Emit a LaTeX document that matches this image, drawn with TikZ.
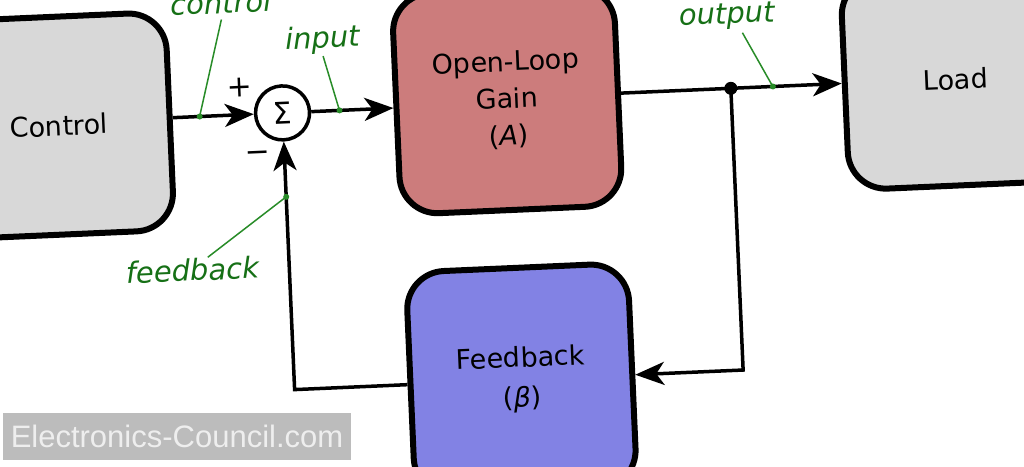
\documentclass[tikz,border=0pt]{standalone}
\usepackage{fontspec}
\setmainfont{DejaVu Sans}
\newfontfamily\wmfont{Liberation Sans}
\usetikzlibrary{arrows.meta}
\definecolor{boxgray}{RGB}{216,216,216}
\definecolor{olred}{RGB}{204,124,124}
\definecolor{fbblue}{RGB}{130,130,228}
\definecolor{lblgreen}{RGB}{22,112,22}
\definecolor{linegreen}{RGB}{40,140,40}
\definecolor{wmgray}{RGB}{188,188,188}
\definecolor{wmtext}{RGB}{238,238,238}
\begin{document}
\begin{tikzpicture}[x=1pt,y=-1pt,
  block/.style={draw=black, line width=6pt, rounded corners=38pt, minimum width=222pt,
    minimum height=220pt, align=center, font=\fontsize{27}{37}\selectfont, inner sep=0pt},
  wire/.style={line width=3.5pt, black},
  tip/.style={-{Stealth[length=29pt,width=23pt,inset=8pt]}},
  lbl/.style={text=lblgreen, font=\fontsize{29}{34}\selectfont\itshape, inner sep=0pt},
  lead/.style={linegreen, line width=1.5pt},
  gdot/.style={circle, fill=linegreen, minimum size=6pt, inner sep=0pt},
  sign/.style={font=\fontsize{30}{30}\selectfont, inner sep=0pt},
]
\useasboundingbox (0,0) rectangle (1024,466);
\clip (0,0) rectangle (1024,466);
\fill[white] (0,0) rectangle (1024,466);
\begin{scope}[rotate around={2.5:(512,233)}, transform shape]
  % blocks
  \node[block, fill=boxgray, minimum height=218pt] (ctrl) at (64,106) {Control};
  \node[block, fill=olred] (ol) at (513,100) {Open-Loop\\Gain\\({\itshape A})};
  \node[block, fill=boxgray, minimum height=212pt] (load) at (962,99) {Load};
  \node[block, fill=fbblue, minimum height=224pt, font=\fontsize{27}{40}\selectfont] (fb) at (515,380) {Feedback\\({\itshape β})};
  \node[circle, draw, line width=3.5pt, minimum size=54pt, inner sep=0pt, fill=white,
        font=\fontsize{30}{30}\selectfont] (sum) at (288,103) {Σ};
  \node[sign] (plus) at (246,76) {+};
  \node[sign] (minus) at (261,146) {−};
  % wires
  \coordinate (j) at (737,98);
  \draw[wire, tip] (ctrl.east |- sum.west) -- (sum.west);
  \draw[wire, tip] (sum.east) -- (ol.west |- sum.east);
  \draw[wire, tip] (ol.east |- j) -- (load.west |- j);
  \draw[wire, tip] (j) -- (j |- fb.east) -- (fb.east);
  \draw[wire, tip] (fb.west) -- (sum |- fb.west) -- (sum.south);
  \fill (j) circle (6.5pt);
  % green labels
  \node[lbl] (lcontrol) at (231,-10) {control};
  \node[lbl] (linput) at (331,32) {input};
  \node[lbl] (loutput) at (736,26) {output};
  \node[lbl] (lfeedback) at (191,256) {feedback};
  \coordinate (ccontrol) at (231,7);
  \coordinate (cinput) at (331,48);
  \coordinate (coutput) at (751,43);
  \coordinate (cfeedback) at (207,244);
  \node[gdot] (dcontrol) at (205,103) {};
  \node[gdot] (dinput) at (345,103) {};
  \node[gdot] (doutput) at (779,98) {};
  \node[gdot] (dfeedback) at (288,187) {};
  \draw[lead] (ccontrol) -- (dcontrol.center);
  \draw[lead] (cinput) -- (dinput.center);
  \draw[lead] (coutput) -- (doutput.center);
  \draw[lead] (cfeedback) -- (dfeedback.center);
\end{scope}
% watermark
\node[fill=wmgray, text=wmtext, minimum width=348pt, minimum height=47pt, inner sep=0pt,
      font=\wmfont\fontsize{31}{31}\selectfont] (wm) at (177,436.5) {Electronics-Council.com};
\end{tikzpicture}
\end{document}
